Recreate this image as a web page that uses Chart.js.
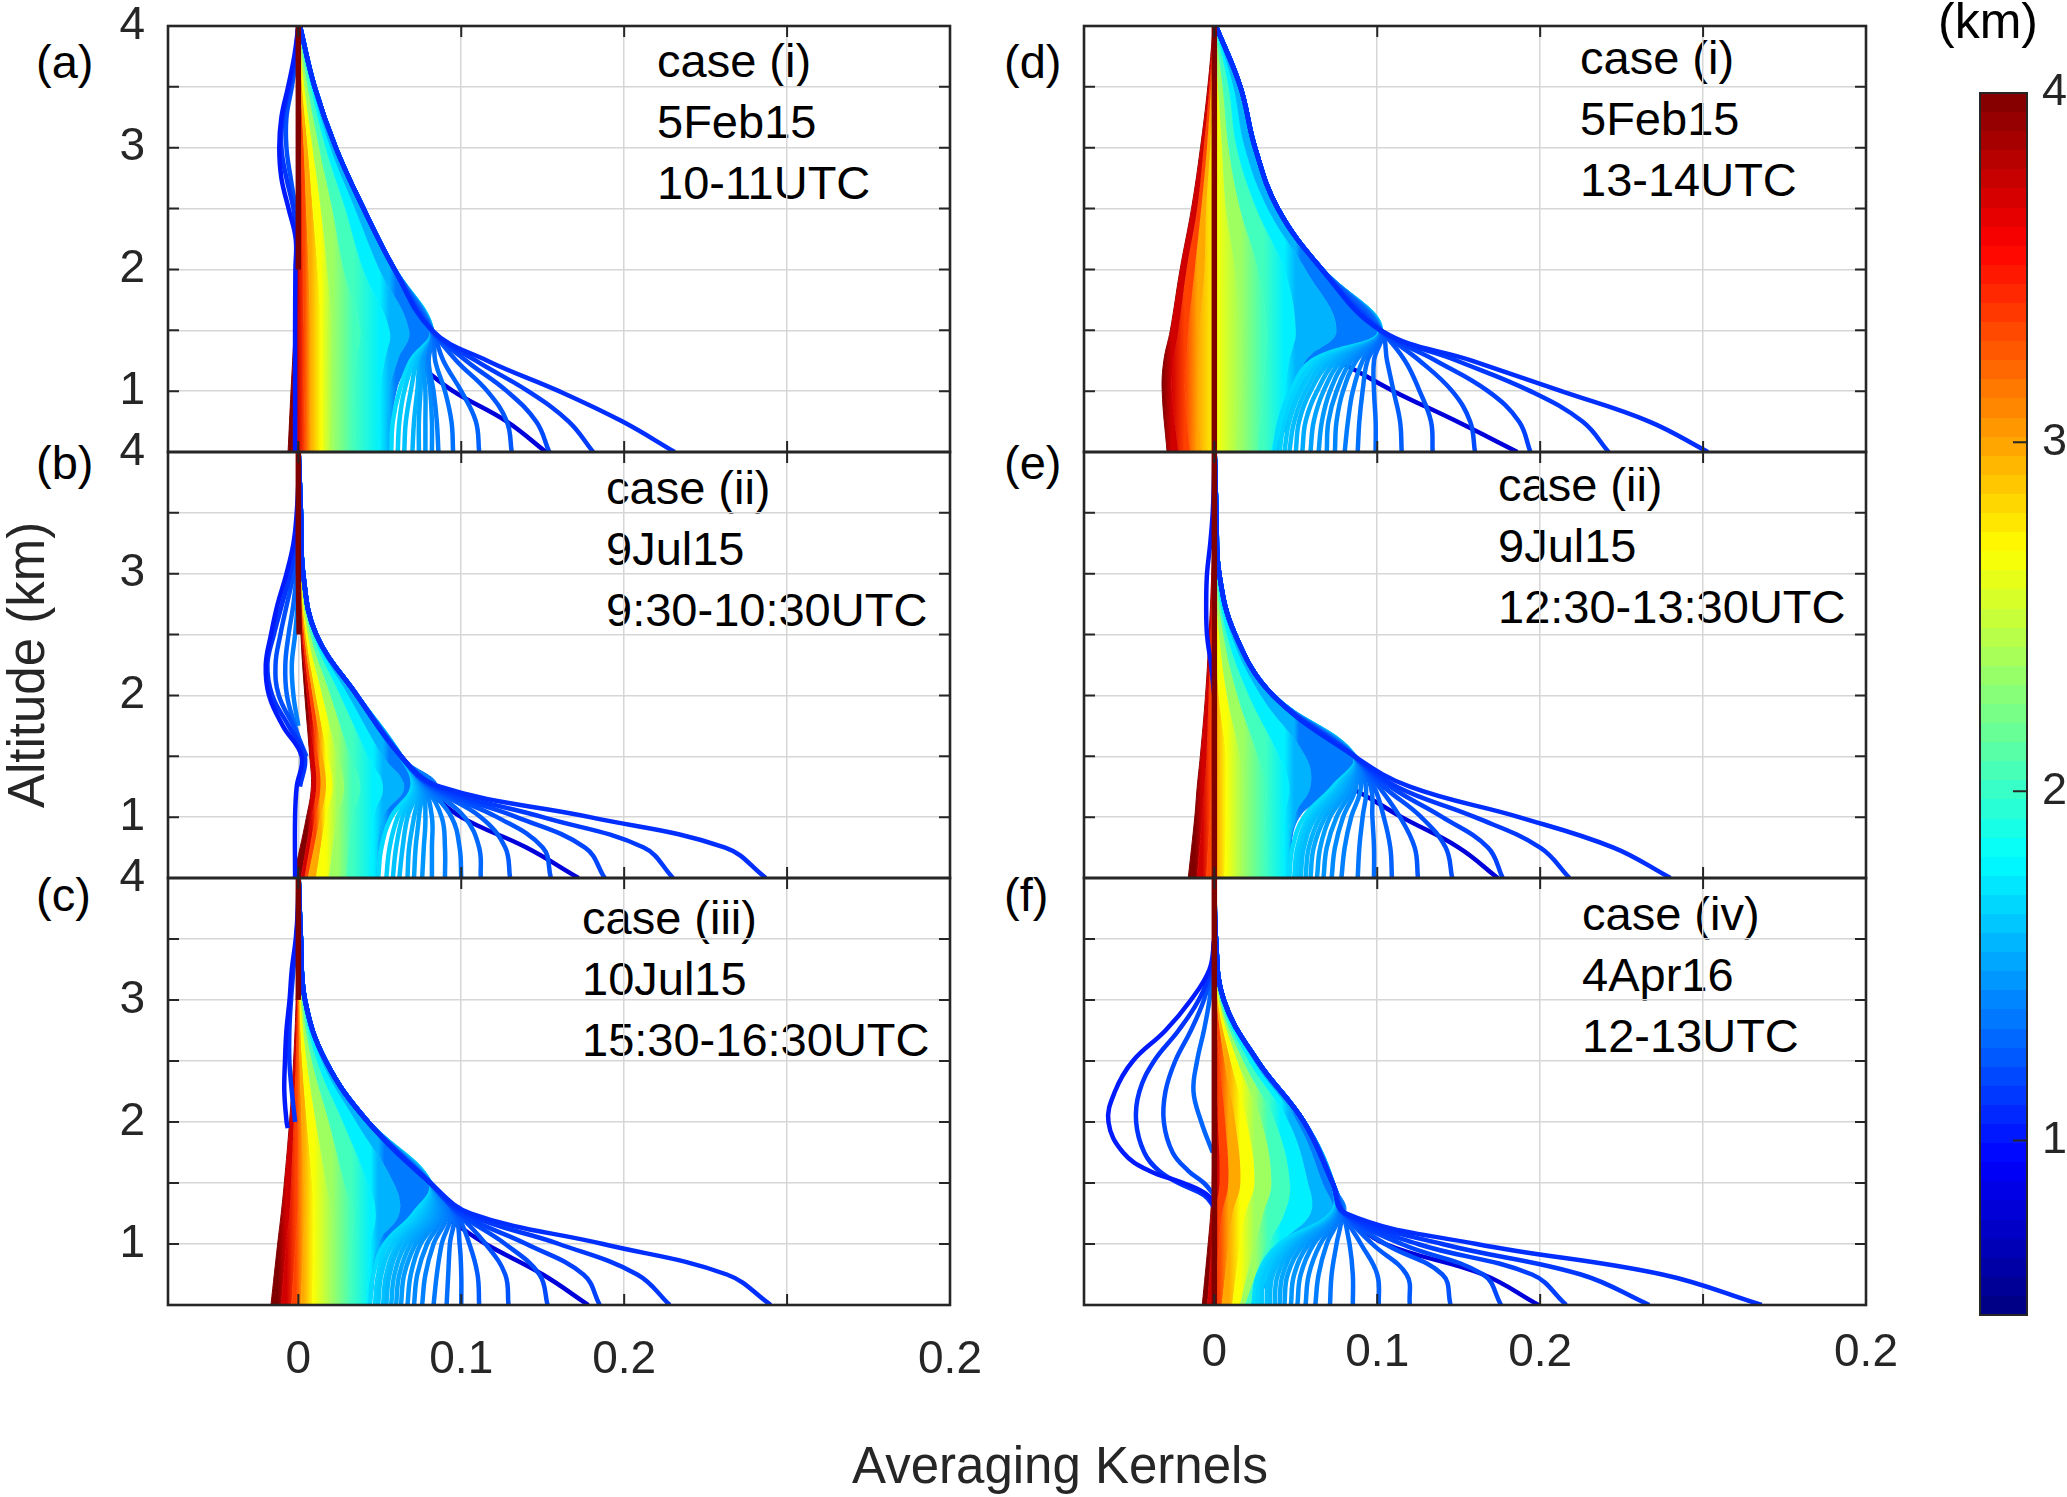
<!DOCTYPE html>
<html>
<head>
<meta charset="utf-8">
<title>Averaging Kernels</title>
<script src="https://cdn.jsdelivr.net/npm/chart.js@4.4.1/dist/chart.umd.min.js"></script>
<style>
  html, body { margin:0; padding:0; background:#ffffff; }
  body { width:2067px; height:1497px; position:relative; overflow:hidden; font-family:"Liberation Sans", Arial, Helvetica, sans-serif; }
  canvas { position:absolute; }
  .txt { position:absolute; white-space:nowrap; color:#000; font-size:47px; line-height:61px; }
  .ax { position:absolute; white-space:nowrap; color:#262626; font-size:51px; line-height:51px; }
</style>
</head>
<body>
<div class="txt" style="left:36px; top:31px;">(a)</div>
<div class="txt" style="left:36px; top:432px;">(b)</div>
<div class="txt" style="left:36px; top:864px;">(c)</div>
<div class="txt" style="left:1004px; top:31px;">(d)</div>
<div class="txt" style="left:1004px; top:432px;">(e)</div>
<div class="txt" style="left:1004px; top:864px;">(f)</div>

<div class="txt" style="left:657px; top:30px;">case (i)<br>5Feb15<br>10-11UTC</div>
<div class="txt" style="left:606px; top:457px;">case (ii)<br>9Jul15<br>9:30-10:30UTC</div>
<div class="txt" style="left:582px; top:887px;">case (iii)<br>10Jul15<br>15:30-16:30UTC</div>
<div class="txt" style="left:1580px; top:27px;">case (i)<br>5Feb15<br>13-14UTC</div>
<div class="txt" style="left:1498px; top:454px;">case (ii)<br>9Jul15<br>12:30-13:30UTC</div>
<div class="txt" style="left:1582px; top:883px;">case (iv)<br>4Apr16<br>12-13UTC</div>

<div class="ax" style="left:26px; top:665px; transform:translate(-50%,-50%) rotate(-90deg);">Altitude (km)</div>
<div class="ax" style="left:1060px; top:1440px; transform:translateX(-50%);">Averaging Kernels</div>
<div class="ax" style="left:1938px; top:-4px; font-size:50px; line-height:50px; color:#000;">(km)</div>

<script>
// ================= DATA =================
// altitude levels (km) at which the coloured kernel band boundaries are read
const fillLevels = [0.5, 1.0, 1.25, 1.5, 2.0, 2.5, 3.0, 3.5, 4.0];
// altitude levels (km) of the lower part of the low-altitude (blue) kernels
const fanLevels = [0.5, 0.75, 1.0, 1.25];
// altitude levels (km) of the darker crossing kernel
const crossLevels = [0.5, 0.75, 1.0, 1.25, 1.4];
const xRange = [-0.08, 0.4];
const yRange = [0.5, 4];
const xTickValues = [0, 0.1, 0.2, 0.3, 0.4];
const xTickLabels = ['0', '0.1', '0.2', '', '0.2'];
const yTickValues = [0.5, 1, 1.5, 2, 2.5, 3, 3.5, 4];
const cbarRange = [0.5, 4.0];
const cbarTicks = [1, 2, 3, 4];

// ---- panel (a) case (i) 5Feb15 10-11UTC ----
const bandsA = [
  [-0.0063, -0.0045, -0.0035, -0.0026, -0.0016, -0.0010, -0.0007, -0.0004, 0],
  [-0.0005, 0.0000, 0.0001, 0.0003, 0.0005, 0.0005, 0.0004, 0.0002, 0],
  [0.0040, 0.0035, 0.0035, 0.0035, 0.0030, 0.0025, 0.0018, 0.0008, 0],
  [0.0080, 0.0075, 0.0075, 0.0075, 0.0065, 0.0050, 0.0035, 0.0015, 0.0001],
  [0.0150, 0.0140, 0.0140, 0.0140, 0.0120, 0.0090, 0.0060, 0.0025, 0.0002],
  [0.0220, 0.0210, 0.0210, 0.0210, 0.0180, 0.0140, 0.0090, 0.0040, 0.0003],
  [0.0350, 0.0340, 0.0350, 0.0380, 0.0280, 0.0210, 0.0130, 0.0060, 0.0005],
  [0.0500, 0.0500, 0.0530, 0.0560, 0.0400, 0.0290, 0.0170, 0.0080, 0.0007],
  [0.0550, 0.0560, 0.0610, 0.0680, 0.0500, 0.0350, 0.0200, 0.0090, 0.0008],
  [0.0560, 0.0600, 0.0690, 0.0820, 0.0590, 0.0400, 0.0230, 0.0100, 0.0010]
];
const fansA = [
  [0.231, 0.199, 0.160, 0.116],
  [0.181, 0.166, 0.141, 0.109],
  [0.154, 0.146, 0.128, 0.103],
  [0.131, 0.128, 0.116, 0.097],
  [0.111, 0.109, 0.100, 0.089],
  [0.095, 0.094, 0.090, 0.084],
  [0.086, 0.085, 0.083, 0.080],
  [0.082, 0.082, 0.081, 0.079],
  [0.078, 0.078, 0.078, 0.077],
  [0.074, 0.074, 0.075, 0.076],
  [0.070, 0.071, 0.073, 0.075],
  [0.065, 0.066, 0.069, 0.073],
  [0.061, 0.062, 0.065, 0.071],
  [0.057, 0.058, 0.062, 0.069]
];
const crossA = [0.152, 0.128, 0.095, 0.070, 0.050];
const lobeLevelsA = [0.5, 1.0, 1.5, 2.0, 2.25, 2.5, 2.75, 3.0, 3.25, 3.5, 3.75, 4.0];
const lobesA = [
  [-0.0020, -0.0020, -0.0020, -0.0018, -0.0016, -0.0060, -0.0104, -0.0117, -0.0104, -0.0063, -0.0025, 0],
  [null, null, null, null, -0.0005, -0.0030, -0.0073, -0.0104, -0.0095, -0.0054, -0.0019, 0],
  [null, null, null, null, null, -0.0016, -0.0047, -0.0073, -0.0073, -0.0040, -0.0013, 0]
];
const redA = [null, null, null, null, 0, 0, 0, 0, 0];

// ---- panel (b) case (ii) 9Jul15 9:30-10:30UTC ----
const bandsB = [
  [-0.0030, 0.0050, 0.0080, 0.0070, 0.0040, 0.0016, 0.0006, 0.0003, 0],
  [0.0016, 0.0080, 0.0110, 0.0098, 0.0054, 0.0022, 0.0008, 0.0004, 0],
  [0.0040, 0.0105, 0.0136, 0.0120, 0.0070, 0.0029, 0.0010, 0.0005, 0],
  [0.0060, 0.0136, 0.0170, 0.0150, 0.0090, 0.0038, 0.0013, 0.0006, 0],
  [0.0110, 0.0170, 0.0210, 0.0180, 0.0110, 0.0048, 0.0016, 0.0007, 0],
  [0.0190, 0.0240, 0.0280, 0.0240, 0.0150, 0.0061, 0.0019, 0.0009, 0.0001],
  [0.0300, 0.0330, 0.0380, 0.0320, 0.0200, 0.0077, 0.0023, 0.0011, 0.0001],
  [0.0440, 0.0460, 0.0520, 0.0430, 0.0260, 0.0093, 0.0026, 0.0013, 0.0001],
  [0.0480, 0.0520, 0.0650, 0.0520, 0.0310, 0.0102, 0.0028, 0.0014, 0.0001],
  [0.0490, 0.0560, 0.0850, 0.0630, 0.0360, 0.0110, 0.0030, 0.0016, 0.0002]
];
const fansB = [
  [0.287, 0.262, 0.179, 0.087],
  [0.230, 0.212, 0.150, 0.085],
  [0.188, 0.176, 0.134, 0.083],
  [0.155, 0.150, 0.122, 0.082],
  [0.130, 0.127, 0.112, 0.081],
  [0.112, 0.111, 0.102, 0.080],
  [0.100, 0.099, 0.094, 0.079],
  [0.090, 0.090, 0.088, 0.078],
  [0.082, 0.082, 0.082, 0.077],
  [0.076, 0.077, 0.078, 0.076],
  [0.071, 0.072, 0.074, 0.075],
  [0.067, 0.068, 0.071, 0.074],
  [0.062, 0.064, 0.067, 0.073],
  [0.058, 0.060, 0.064, 0.072],
  [0.054, 0.056, 0.061, 0.071],
  [0.049, 0.051, 0.057, 0.070]
];
const crossB = [0.172, 0.140, 0.100, 0.075, 0.045];
const lobeLevelsB = [0.5, 1.0, 1.25, 1.5, 1.75, 2.0, 2.25, 2.5, 2.75, 3.0, 3.25, 3.5, 3.75, 4.0];
const lobesB = [
  [-0.0020, -0.0020, -0.0010, 0.0020, -0.0095, -0.0180, -0.0200, -0.0168, -0.0127, -0.0073, -0.0030, -0.0010, 0, 0],
  [null, null, 0.0010, 0.0040, -0.0060, -0.0160, -0.0190, -0.0150, -0.0100, -0.0050, -0.0020, -0.0005, 0, 0],
  [null, null, null, 0.0050, -0.0030, -0.0120, -0.0140, -0.0110, -0.0070, -0.0030, -0.0010, 0, 0, 0],
  [null, null, null, 0.0040, -0.0020, -0.0070, -0.0080, -0.0060, -0.0030, -0.0010, 0, 0, 0, 0],
  [null, null, null, null, 0.0000, -0.0030, -0.0040, -0.0020, -0.0005, 0, 0, 0, 0, 0]
];
const redB = [null, null, null, null, null, 0.0005, 0, 0, 0];

// ---- panel (c) case (iii) 10Jul15 15:30-16:30UTC ----
const bandsC = [
  [-0.0168, -0.0127, -0.0105, -0.0086, -0.0054, -0.0029, -0.0013, -0.0003, 0],
  [-0.0105, -0.0073, -0.0054, -0.0044, -0.0029, -0.0016, -0.0007, -0.0001, 0],
  [-0.0041, -0.0016, -0.0006, -0.0003, -0.0003, -0.0003, -0.0001, 0.0000, 0],
  [0.0016, 0.0032, 0.0038, 0.0035, 0.0022, 0.0010, 0.0004, 0.0002, 0],
  [0.0086, 0.0095, 0.0095, 0.0086, 0.0054, 0.0025, 0.0010, 0.0004, 0],
  [0.0206, 0.0206, 0.0206, 0.0174, 0.0110, 0.0054, 0.0018, 0.0007, 0.0001],
  [0.0317, 0.0326, 0.0340, 0.0285, 0.0190, 0.0086, 0.0026, 0.0010, 0.0001],
  [0.0420, 0.0443, 0.0475, 0.0428, 0.0276, 0.0117, 0.0032, 0.0012, 0.0001],
  [0.0438, 0.0490, 0.0620, 0.0586, 0.0358, 0.0146, 0.0037, 0.0014, 0.0002],
  [0.0443, 0.0530, 0.0870, 0.0810, 0.0428, 0.0168, 0.0041, 0.0016, 0.0002]
];
const fansC = [
  [0.290, 0.263, 0.187, 0.106],
  [0.228, 0.208, 0.160, 0.103],
  [0.185, 0.175, 0.140, 0.100],
  [0.153, 0.148, 0.127, 0.099],
  [0.129, 0.127, 0.115, 0.098],
  [0.111, 0.110, 0.105, 0.097],
  [0.100, 0.100, 0.099, 0.096],
  [0.091, 0.092, 0.093, 0.095],
  [0.083, 0.085, 0.088, 0.093],
  [0.076, 0.078, 0.083, 0.091],
  [0.071, 0.073, 0.079, 0.089],
  [0.067, 0.069, 0.075, 0.087],
  [0.063, 0.065, 0.072, 0.085],
  [0.060, 0.062, 0.069, 0.083],
  [0.057, 0.059, 0.066, 0.081],
  [0.054, 0.056, 0.063, 0.079],
  [0.052, 0.054, 0.061, 0.077],
  [0.049, 0.051, 0.058, 0.075],
  [0.047, 0.049, 0.055, 0.073],
  [0.044, 0.046, 0.053, 0.071]
];
const crossC = [0.178, 0.150, 0.115, 0.085, 0.050];
const lobeLevelsC = [1.95, 2.0, 2.25, 2.5, 2.75, 3.0, 3.25, 3.5, 3.75, 4.0];
const lobesC = [
  [-0.0065, -0.0072, -0.0086, -0.0082, -0.0073, -0.0054, -0.0040, -0.0016, -0.0003, 0],
  [null, -0.0020, -0.0040, -0.0055, -0.0055, -0.0045, -0.0030, -0.0012, -0.0002, 0]
];
const redC = [null, null, null, null, null, null, 0, 0, 0];

// ---- panel (d) case (i) 5Feb15 13-14UTC ----
const bandsD = [
  [-0.0290, -0.0320, -0.0310, -0.0270, -0.0210, -0.0140, -0.0085, -0.0040, -0.0006],
  [-0.0220, -0.0260, -0.0250, -0.0220, -0.0170, -0.0105, -0.0065, -0.0030, -0.0004],
  [-0.0150, -0.0180, -0.0170, -0.0160, -0.0120, -0.0080, -0.0045, -0.0020, -0.0002],
  [-0.0080, -0.0100, -0.0090, -0.0090, -0.0060, -0.0050, -0.0025, -0.0010, 0],
  [0.0020, 0.0010, 0.0010, 0.0010, 0.0020, 0.0006, 0.0002, 0.0003, 0.0001],
  [0.0140, 0.0160, 0.0160, 0.0160, 0.0130, 0.0074, 0.0050, 0.0026, 0.0002],
  [0.0270, 0.0300, 0.0310, 0.0320, 0.0270, 0.0160, 0.0090, 0.0054, 0.0004],
  [0.0350, 0.0430, 0.0460, 0.0500, 0.0430, 0.0260, 0.0140, 0.0090, 0.0006],
  [0.0370, 0.0500, 0.0560, 0.0750, 0.0560, 0.0330, 0.0190, 0.0120, 0.0008],
  [0.0380, 0.0530, 0.0620, 0.1020, 0.0660, 0.0390, 0.0250, 0.0160, 0.0010]
];
const fansD = [
  [0.303, 0.267, 0.213, 0.158],
  [0.242, 0.226, 0.194, 0.149],
  [0.194, 0.187, 0.168, 0.136],
  [0.160, 0.157, 0.146, 0.126],
  [0.134, 0.133, 0.126, 0.117],
  [0.115, 0.114, 0.110, 0.106],
  [0.099, 0.099, 0.098, 0.098],
  [0.088, 0.089, 0.091, 0.094],
  [0.080, 0.082, 0.085, 0.091],
  [0.074, 0.075, 0.079, 0.087],
  [0.069, 0.070, 0.075, 0.084],
  [0.064, 0.066, 0.071, 0.081],
  [0.059, 0.061, 0.067, 0.078],
  [0.054, 0.056, 0.063, 0.075],
  [0.050, 0.052, 0.059, 0.072],
  [0.046, 0.049, 0.056, 0.069],
  [0.043, 0.046, 0.053, 0.066],
  [0.040, 0.043, 0.050, 0.063],
  [0.037, 0.040, 0.047, 0.060]
];
const crossD = [0.186, 0.149, 0.110, 0.075, 0.045];
const lobeLevelsD = [];
const lobesD = [];
const redD = [0, 0, 0, 0, 0, 0, 0, 0, 0];

// ---- panel (e) case (ii) 9Jul15 12:30-13:30UTC ----
const bandsE = [
  [-0.0160, -0.0120, -0.0105, -0.0086, -0.0054, -0.0032, -0.0016, -0.0006, 0],
  [-0.0105, -0.0074, -0.0060, -0.0048, -0.0035, -0.0022, -0.0011, -0.0004, 0],
  [-0.0048, -0.0026, -0.0016, -0.0010, -0.0016, -0.0013, -0.0006, -0.0002, 0],
  [0.0000, 0.0016, 0.0022, 0.0026, 0.0003, -0.0003, -0.0001, 0.0000, 0],
  [0.0064, 0.0074, 0.0080, 0.0074, 0.0029, 0.0010, 0.0003, 0.0001, 0],
  [0.0176, 0.0176, 0.0180, 0.0160, 0.0080, 0.0032, 0.0008, 0.0003, 0],
  [0.0320, 0.0310, 0.0320, 0.0270, 0.0144, 0.0058, 0.0014, 0.0005, 0.0001],
  [0.0430, 0.0430, 0.0460, 0.0400, 0.0214, 0.0080, 0.0019, 0.0007, 0.0001],
  [0.0455, 0.0490, 0.0590, 0.0560, 0.0288, 0.0106, 0.0024, 0.0010, 0.0001],
  [0.0460, 0.0520, 0.0800, 0.0860, 0.0360, 0.0128, 0.0030, 0.0013, 0.0002]
];
const fansE = [
  [0.280, 0.245, 0.187, 0.120],
  [0.218, 0.200, 0.160, 0.112],
  [0.177, 0.168, 0.140, 0.108],
  [0.146, 0.142, 0.127, 0.104],
  [0.125, 0.123, 0.114, 0.101],
  [0.109, 0.108, 0.104, 0.098],
  [0.098, 0.098, 0.097, 0.096],
  [0.088, 0.089, 0.091, 0.093],
  [0.078, 0.080, 0.084, 0.090],
  [0.072, 0.074, 0.079, 0.087],
  [0.067, 0.069, 0.075, 0.085],
  [0.063, 0.065, 0.071, 0.083],
  [0.059, 0.061, 0.068, 0.081],
  [0.056, 0.058, 0.065, 0.079],
  [0.053, 0.055, 0.062, 0.077],
  [0.051, 0.053, 0.060, 0.076],
  [0.049, 0.051, 0.058, 0.075],
  [0.046, 0.048, 0.055, 0.073]
];
const crossE = [0.174, 0.150, 0.115, 0.082, 0.050];
const lobeLevelsE = [2.0, 2.25, 2.5, 2.75, 3.0, 3.25, 3.5, 3.75, 4.0];
const lobesE = [
  [0, -0.0020, -0.0045, -0.0050, -0.0045, -0.0025, -0.0010, -0.0003, 0]
];
const redE = [0, 0, 0, 0, 0, 0, 0, 0, 0];

// ---- panel (f) case (iv) 4Apr16 12-13UTC ----
const bandsF = [
  [-0.0074, -0.0038, -0.0022, -0.0013, -0.0010, -0.0006, -0.0003, 0, 0],
  [-0.0042, -0.0013, 0.0003, 0.0032, 0.0022, 0.0010, 0.0002, 0.0001, 0],
  [0.0000, 0.0030, 0.0048, 0.0086, 0.0067, 0.0032, 0.0009, 0.0002, 0],
  [0.0048, 0.0090, 0.0112, 0.0160, 0.0128, 0.0064, 0.0016, 0.0003, 0],
  [0.0112, 0.0160, 0.0190, 0.0246, 0.0200, 0.0102, 0.0023, 0.0004, 0],
  [0.0160, 0.0250, 0.0300, 0.0350, 0.0290, 0.0144, 0.0032, 0.0005, 0],
  [0.0190, 0.0330, 0.0430, 0.0464, 0.0374, 0.0180, 0.0038, 0.0006, 0],
  [0.0224, 0.0410, 0.0590, 0.0576, 0.0457, 0.0214, 0.0045, 0.0007, 0],
  [0.0238, 0.0460, 0.0720, 0.0665, 0.0510, 0.0243, 0.0052, 0.0008, 0.0001],
  [0.0240, 0.0500, 0.0800, 0.0726, 0.0550, 0.0265, 0.0058, 0.0010, 0.0001]
];
const fansF = [
  [0.336, 0.275, 0.161, 0.081],
  [0.267, 0.225, 0.140, 0.080],
  [0.216, 0.195, 0.125, 0.080],
  [0.176, 0.165, 0.115, 0.080],
  [0.145, 0.140, 0.105, 0.080],
  [0.120, 0.118, 0.097, 0.080],
  [0.101, 0.100, 0.090, 0.079],
  [0.085, 0.085, 0.083, 0.079],
  [0.071, 0.072, 0.075, 0.078],
  [0.062, 0.064, 0.069, 0.077],
  [0.056, 0.058, 0.065, 0.077],
  [0.051, 0.053, 0.061, 0.076],
  [0.047, 0.049, 0.058, 0.076],
  [0.043, 0.045, 0.055, 0.075],
  [0.040, 0.042, 0.052, 0.075],
  [0.037, 0.039, 0.050, 0.074],
  [0.034, 0.036, 0.048, 0.074],
  [0.032, 0.034, 0.046, 0.073],
  [0.029, 0.031, 0.044, 0.073],
  [0.0265, 0.029, 0.042, 0.072],
  [0.024, 0.027, 0.040, 0.072]
];
const crossF = [0.199, 0.165, 0.105, 0.076, 0.045];
const lobeLevelsF = [1.3, 1.4, 1.5, 1.6, 1.75, 2.0, 2.25, 2.5, 2.75, 3.0, 3.25, 3.5];
const lobesF = [
  [0, -0.0040, -0.0190, -0.0400, -0.0560, -0.0650, -0.0610, -0.0500, -0.0300, -0.0144, -0.0030, 0],
  [0, -0.0064, -0.0220, -0.0340, -0.0430, -0.0480, -0.0460, -0.0370, -0.0220, -0.0096, -0.0020, 0],
  [null, 0, -0.0064, -0.0160, -0.0256, -0.0310, -0.0300, -0.0240, -0.0144, -0.0064, -0.0015, 0],
  [null, null, null, null, -0.0010, -0.0080, -0.0128, -0.0106, -0.0064, -0.0030, -0.0010, 0]
];
const redF = [0, 0, 0, 0, 0, 0, 0, 0, 0];

// ================= STYLE / LAYOUT =================
Chart.defaults.font.family = '"Liberation Sans", Arial, Helvetica, sans-serif';
const AXIS = '#262626';
const GRID = '#d6d6d6';
const TICK_FONT = { size: 46 };

function jet(t) {
  const c = v => Math.round(255 * Math.max(0, Math.min(1, v)));
  return 'rgb(' + c(1.5 - Math.abs(4 * t - 3)) + ',' + c(1.5 - Math.abs(4 * t - 2)) + ',' + c(1.5 - Math.abs(4 * t - 1)) + ')';
}
// colour-map position of each band boundary (left = 4 km, right = low altitude)
const edgeT = [1.0, 0.92, 0.81, 0.71, 0.62, 0.53, 0.44, 0.36, 0.30, 0.245];
const GRAD_LEVEL = 1; // index in fillLevels used to span each band's colour gradient

function pts(levels, xs) {
  const out = [];
  for (let i = 0; i < levels.length; i++) {
    if (xs[i] !== null && xs[i] !== undefined) out.push({ x: xs[i], y: levels[i] });
  }
  return out;
}

const framePlugin = {
  id: 'frame',
  afterDraw(chart) {
    const ctx = chart.ctx, a = chart.chartArea;
    const xs = chart.scales.x, ys = chart.scales.y;
    const L = 11;
    ctx.save();
    ctx.strokeStyle = AXIS;
    ctx.lineWidth = 2;
    ctx.beginPath();
    xs.ticks.forEach(t => {
      const p = xs.getPixelForValue(t.value);
      if (p > a.left + 2 && p < a.right - 2) {
        ctx.moveTo(p, a.bottom); ctx.lineTo(p, a.bottom - L);
        ctx.moveTo(p, a.top); ctx.lineTo(p, a.top + L);
      }
    });
    ys.ticks.forEach(t => {
      const p = ys.getPixelForValue(t.value);
      if (p > a.top + 2 && p < a.bottom - 2) {
        ctx.moveTo(a.left, p); ctx.lineTo(a.left + L, p);
        ctx.moveTo(a.right, p); ctx.lineTo(a.right - L, p);
      }
    });
    ctx.stroke();
    ctx.lineWidth = 2.6;
    ctx.strokeRect(a.left, a.top, a.right - a.left, a.bottom - a.top);
    ctx.restore();
  }
};

const colX = [[168, 950], [1084, 1866]];
const rowY = [[26, 452], [452, 878], [878, 1305]];

const panels = [
  { col: 0, row: 0, bands: bandsA, fans: fansA, cross: crossA, lobeLevels: lobeLevelsA, lobes: lobesA, red: redA },
  { col: 0, row: 1, bands: bandsB, fans: fansB, cross: crossB, lobeLevels: lobeLevelsB, lobes: lobesB, red: redB },
  { col: 0, row: 2, bands: bandsC, fans: fansC, cross: crossC, lobeLevels: lobeLevelsC, lobes: lobesC, red: redC },
  { col: 1, row: 0, bands: bandsD, fans: fansD, cross: crossD, lobeLevels: lobeLevelsD, lobes: lobesD, red: redD },
  { col: 1, row: 1, bands: bandsE, fans: fansE, cross: crossE, lobeLevels: lobeLevelsE, lobes: lobesE, red: redE },
  { col: 1, row: 2, bands: bandsF, fans: fansF, cross: crossF, lobeLevels: lobeLevelsF, lobes: lobesF, red: redF }
];

function bandFill(p, i) {
  const solid = jet((edgeT[i - 1] + edgeT[i]) / 2);
  return function (c) {
    const ch = c.chart, xs = ch.scales && ch.scales.x;
    if (!ch.chartArea || !xs) return solid;
    const x0 = xs.getPixelForValue(p.bands[i - 1][GRAD_LEVEL]);
    const x1 = xs.getPixelForValue(p.bands[i][GRAD_LEVEL]);
    if (!(x1 - x0 > 1)) return solid;
    const g = ch.ctx.createLinearGradient(x0, 0, x1, 0);
    g.addColorStop(0, jet(edgeT[i - 1]));
    g.addColorStop(1, jet(edgeT[i]));
    return g;
  };
}

function makePanel(p) {
  const left = colX[p.col][0], right = colX[p.col][1];
  const top = rowY[p.row][0], bottom = rowY[p.row][1];
  const leftCol = p.col === 0, bottomRow = p.row === 2;
  const padTop = 60, padRight = 80;
  const canvasLeft = leftCol ? 0 : left - 20;
  const yw = left - canvasLeft;
  const xh = bottomRow ? 110 : 0;
  const padBottom = bottomRow ? 0 : 60;
  const W = right - canvasLeft + padRight;
  const H = padTop + (bottom - top) + xh + padBottom;
  const cv = document.createElement('canvas');
  cv.width = W; cv.height = H;
  cv.style.left = canvasLeft + 'px';
  cv.style.top = (top - padTop) + 'px';
  cv.style.width = W + 'px';
  cv.style.height = H + 'px';
  document.body.appendChild(cv);

  const datasets = [];
  // coloured band of mid/high altitude kernels (filled between neighbouring kernels)
  p.bands.forEach((b, i) => {
    datasets.push({ data: pts(fillLevels, b), fill: i === 0 ? false : '-1',
      backgroundColor: i === 0 ? jet(edgeT[0]) : bandFill(p, i),
      borderColor: jet(edgeT[i]), borderWidth: 1, order: 200 - i });
  });
  const env = p.bands[p.bands.length - 1];
  const upper = pts(fillLevels, env).filter(q => q.y > fanLevels[fanLevels.length - 1]);
  // low-altitude kernels (blue fan)
  const n = p.fans.length;
  p.fans.forEach((f, j) => {
    datasets.push({ data: pts(fanLevels, f).concat(upper), fill: false,
      borderColor: jet(0.17 + 0.17 * j / (n - 1)), borderWidth: 4.5, order: 50 + j });
  });
  // darker crossing kernel, drawn beneath the coloured band so it disappears into it
  datasets.push({ data: pts(crossLevels, p.cross), fill: false,
    borderColor: jet(0.09), borderWidth: 4.5, order: 300 });
  // negative side lobes
  p.lobes.forEach((l, k) => {
    datasets.push({ data: pts(p.lobeLevels, l), fill: false,
      borderColor: jet(0.15 + 0.025 * k), borderWidth: 4.5, order: 20 });
  });
  // 4 km kernel
  datasets.push({ data: pts(fillLevels, p.red), fill: false, borderColor: jet(1.0), borderWidth: 5.5, order: 0 });

  new Chart(cv, {
    type: 'line',
    data: { datasets },
    options: {
      indexAxis: 'y',
      responsive: false,
      animation: false,
      events: [],
      layout: { padding: { left: 0, top: padTop, right: padRight, bottom: padBottom } },
      elements: { point: { radius: 0, hoverRadius: 0 }, line: { tension: 0.4, borderCapStyle: 'butt' } },
      plugins: { legend: { display: false }, tooltip: { enabled: false } },
      scales: {
        x: {
          type: 'linear', min: xRange[0], max: xRange[1],
          grid: { color: GRID, lineWidth: 1.5, drawTicks: false },
          border: { display: false },
          ticks: { display: bottomRow, font: TICK_FONT, color: AXIS, padding: leftCol ? 28 : 21,
                   autoSkip: false, maxRotation: 0, callback: (v, i) => xTickLabels[i] },
          afterBuildTicks: s => { s.ticks = xTickValues.map(v => ({ value: v })); },
          afterFit: s => { s.height = xh; }
        },
        y: {
          type: 'linear', min: yRange[0], max: yRange[1],
          grid: { color: GRID, lineWidth: 1.5, drawTicks: false },
          border: { display: false },
          ticks: { display: leftCol, font: TICK_FONT, color: AXIS, padding: 23, autoSkip: false,
                   callback: v => (Number.isInteger(v) ? String(v) : '') },
          afterBuildTicks: s => { s.ticks = yTickValues.map(v => ({ value: v })); },
          afterFit: s => { s.width = yw; }
        }
      }
    },
    plugins: [framePlugin]
  });
}
panels.forEach(makePanel);

// ================= COLOURBAR =================
(function () {
  const cv = document.createElement('canvas');
  const W = 107, H = 1342;
  cv.width = W; cv.height = H;
  cv.style.left = '1960px'; cv.style.top = '33px';
  cv.style.width = W + 'px'; cv.style.height = H + 'px';
  document.body.appendChild(cv);
  function jetGradient(chart) {
    const a = chart.chartArea;
    if (!a) return jet(0.5);
    const g = chart.ctx.createLinearGradient(0, a.bottom, 0, a.top);
    const N = 64;
    for (let k = 0; k < N; k++) {
      const c = jet((k + 0.5) / N);
      g.addColorStop(k / N, c);
      g.addColorStop((k + 1) / N, c);
    }
    return g;
  }
  const cbFrame = {
    id: 'cbframe',
    afterDraw(chart) {
      const ctx = chart.ctx, a = chart.chartArea, ys = chart.scales.y;
      ctx.save();
      ctx.strokeStyle = AXIS;
      ctx.lineWidth = 2;
      ctx.beginPath();
      ys.ticks.forEach(t => {
        const p = ys.getPixelForValue(t.value);
        if (p > a.top + 2 && p < a.bottom - 2) { ctx.moveTo(a.right, p); ctx.lineTo(a.right - 14, p); }
      });
      ctx.stroke();
      ctx.strokeRect(a.left, a.top, a.right - a.left, a.bottom - a.top);
      ctx.restore();
    }
  };
  new Chart(cv, {
    type: 'bar',
    data: { labels: [''], datasets: [{ data: [cbarRange], backgroundColor: ctx => jetGradient(ctx.chart),
      borderWidth: 0, barPercentage: 1, categoryPercentage: 1 }] },
    options: {
      responsive: false, animation: false, events: [],
      layout: { padding: { left: 20, top: 60, right: 0, bottom: 60 } },
      plugins: { legend: { display: false }, tooltip: { enabled: false } },
      scales: {
        x: { display: false },
        y: {
          position: 'right', min: cbarRange[0], max: cbarRange[1],
          grid: { display: false, drawTicks: false }, border: { display: false },
          ticks: { font: { size: 45 }, color: AXIS, padding: 15, autoSkip: false },
          afterBuildTicks: s => { s.ticks = cbarTicks.map(v => ({ value: v })); },
          afterFit: s => { s.width = 40; }
        }
      }
    },
    plugins: [cbFrame]
  });
})();
</script>
</body>
</html>
